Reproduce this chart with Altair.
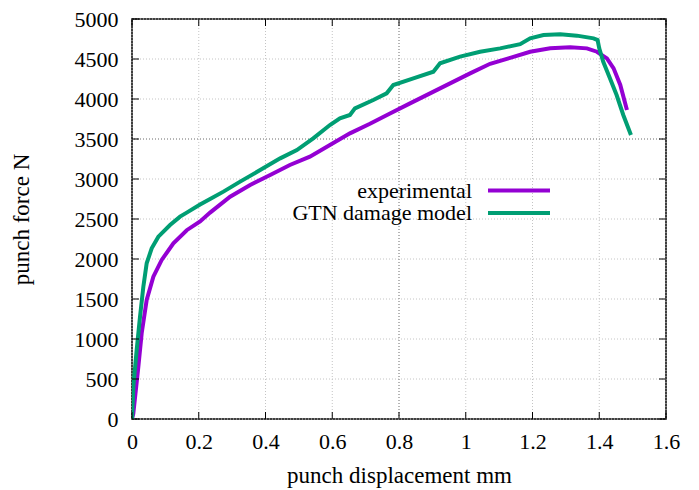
import altair as alt
import pandas as pd

# --- data ---
gtn_x = [0, 0.004, 0.014, 0.024, 0.034, 0.044, 0.059, 0.079, 0.114, 0.144, 0.164, 0.204,
         0.234, 0.274, 0.324, 0.384, 0.444, 0.494, 0.543, 0.593, 0.623, 0.653, 0.668, 0.723,
         0.763, 0.783, 0.843, 0.903, 0.923, 0.983, 1.043, 1.103, 1.163, 1.193, 1.233, 1.283,
         1.333, 1.383, 1.395, 1.400, 1.412, 1.432, 1.452, 1.472, 1.495]
gtn_y = [0, 404, 862, 1279, 1654, 1946, 2133, 2279, 2425, 2530, 2580, 2680,
         2750, 2842, 2967, 3112, 3258, 3362, 3508, 3675, 3758, 3800, 3883, 3987,
         4071, 4175, 4258, 4341, 4446, 4529, 4591, 4633, 4685, 4758, 4800, 4808,
         4792, 4758, 4737, 4633, 4466, 4258, 4050, 3800, 3550]

exp_x = [0, 0.004, 0.019, 0.029, 0.044, 0.064, 0.089, 0.124, 0.164, 0.204, 0.234, 0.294,
         0.354, 0.414, 0.473, 0.533, 0.593, 0.653, 0.713, 0.773, 0.833, 0.893, 0.953, 1.013,
         1.073, 1.133, 1.193, 1.253, 1.313, 1.363, 1.393, 1.423, 1.443, 1.463, 1.483]
exp_y = [0, 71, 654, 1071, 1487, 1779, 1988, 2196, 2360, 2470, 2580, 2779,
         2925, 3050, 3175, 3279, 3425, 3571, 3690, 3820, 3945, 4070, 4195, 4320,
         4440, 4515, 4591, 4633, 4646, 4633, 4591, 4508, 4383, 4175, 3862]

series_names = ["experimental", "GTN damage model"]
series_colors = ["#9400D3", "#009E73"]

x_ticks = [0, 0.2, 0.4, 0.6, 0.8, 1.0, 1.2, 1.4, 1.6]
y_ticks = [0, 500, 1000, 1500, 2000, 2500, 3000, 3500, 4000, 4500, 5000]
dark_x_grid = [0.8]
dark_y_grid = [3500]

W, H = 534, 400
FONT = "Liberation Serif"

df = pd.concat([
    pd.DataFrame({"x": exp_x, "y": exp_y, "s": series_names[0], "o": range(len(exp_x))}),
    pd.DataFrame({"x": gtn_x, "y": gtn_y, "s": series_names[1], "o": range(len(gtn_x))}),
])

xs = alt.Scale(domain=[0, 1.6], nice=False, zero=False)
ys = alt.Scale(domain=[0, 5000], nice=False, zero=False)

common = dict(
    ticks=False, domain=False, grid=False, labelOverlap=False, labelFlush=False,
    labelFont=FONT, labelFontSize=22, labelColor="black",
    titleFont=FONT, titleFontSize=23, titleFontWeight="normal", titleColor="black",
)
x_axis = alt.Axis(title="punch displacement mm", values=x_ticks, format="~g",
                  labelPadding=12, titlePadding=12, **common)
y_axis = alt.Axis(title="punch force N", values=y_ticks, format="d",
                  labelPadding=14, titlePadding=41, **common)

X = lambda: alt.X("x:Q", scale=xs, axis=x_axis)
Y = lambda: alt.Y("y:Q", scale=ys, axis=y_axis)

xt = pd.DataFrame({"x": x_ticks})
yt = pd.DataFrame({"y": y_ticks})

grid_x = alt.Chart(xt).mark_rule(color="#c4c4c4", strokeWidth=1, strokeDash=[1, 2]).encode(x=X())
grid_y = alt.Chart(yt).mark_rule(color="#c4c4c4", strokeWidth=1, strokeDash=[1, 2]).encode(y=Y())
dgx = alt.Chart(pd.DataFrame({"x": dark_x_grid})).mark_rule(
    color="#888888", strokeWidth=1, strokeDash=[1, 2]).encode(x=X())
dgy = alt.Chart(pd.DataFrame({"y": dark_y_grid})).mark_rule(
    color="#888888", strokeWidth=1, strokeDash=[1, 2]).encode(y=Y())

lines = alt.Chart(df).mark_line(strokeWidth=4, clip=True).encode(
    x=X(), y=Y(),
    color=alt.Color("s:N", scale=alt.Scale(domain=series_names, range=series_colors), legend=None),
    order="o:Q",
)

tick_bottom = alt.Chart(xt).mark_rule(color="black", strokeWidth=1).encode(
    x=X(), y=alt.value(H), y2=alt.value(H - 7))
tick_top = alt.Chart(xt).mark_rule(color="black", strokeWidth=1).encode(
    x=X(), y=alt.value(0), y2=alt.value(7))
tick_left = alt.Chart(yt).mark_rule(color="black", strokeWidth=1).encode(
    y=Y(), x=alt.value(0), x2=alt.value(7))
tick_right = alt.Chart(yt).mark_rule(color="black", strokeWidth=1).encode(
    y=Y(), x=alt.value(W), x2=alt.value(W - 7))

# legend (manual, inside the plot)
leg = []
for i, (name, col) in enumerate(zip(series_names, series_colors)):
    yy = 171.5 + i * 22.5
    leg.append(alt.Chart(pd.DataFrame({"t": [name]})).mark_text(
        align="right", baseline="middle", font=FONT, fontSize=22, color="black").encode(
        x=alt.value(340), y=alt.value(yy), text="t:N"))
    leg.append(alt.Chart(pd.DataFrame({"t": [name]})).mark_rule(
        color=col, strokeWidth=4).encode(
        x=alt.value(356), x2=alt.value(418), y=alt.value(yy)))

chart = alt.layer(grid_x, grid_y, dgx, dgy, lines,
                  tick_bottom, tick_top, tick_left, tick_right, *leg).properties(
    width=W, height=H,
    autosize=alt.AutoSizeParams(type="none"),
    padding={"left": 124, "top": 11, "right": 20, "bottom": 70},
    background="white",
).configure_view(stroke="black", strokeWidth=1.5)

chart.save("out.html", embed_options={"renderer": "svg", "actions": False})
